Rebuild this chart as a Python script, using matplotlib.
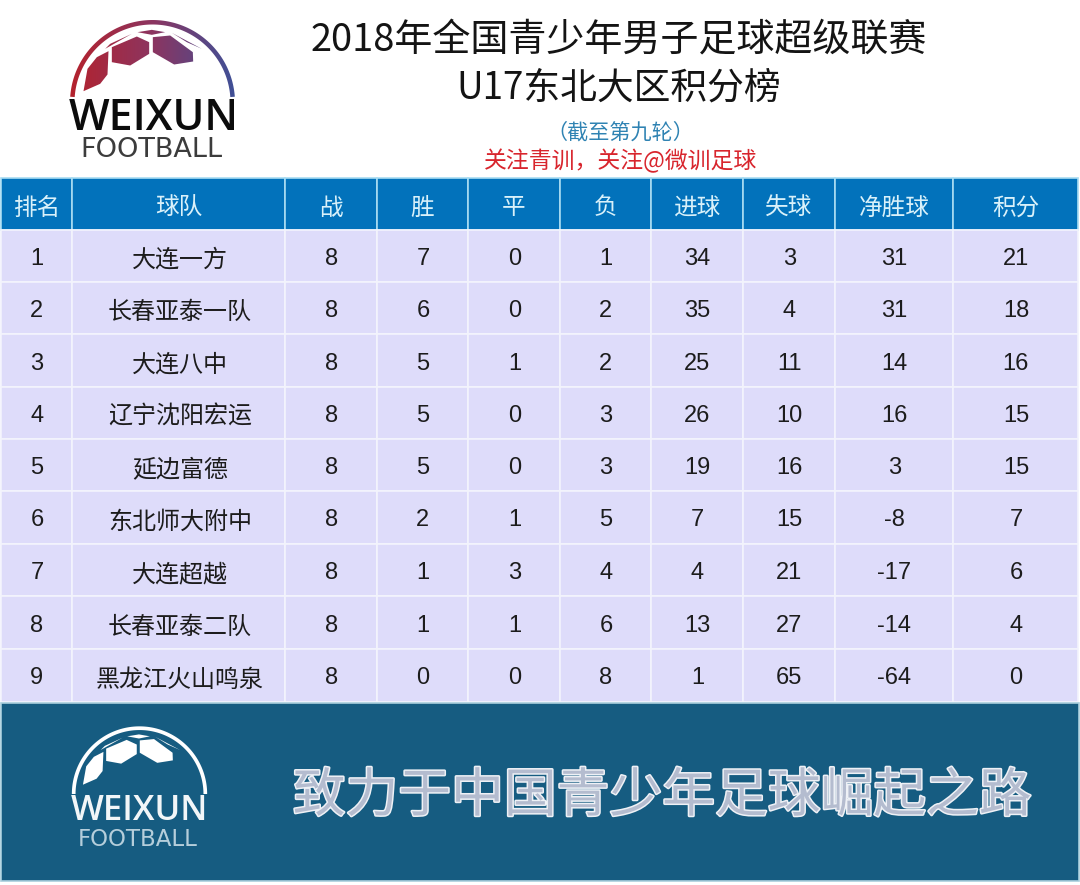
import numpy as np
import matplotlib
matplotlib.use("Agg")
import matplotlib.pyplot as plt
from matplotlib.patches import Rectangle, PathPatch
from matplotlib.path import Path
from matplotlib.colors import LinearSegmentedColormap
import matplotlib.patheffects as pe

CJK = ['Noto Sans CJK SC', 'DejaVu Sans']
NUM = ['Liberation Sans', 'DejaVu Sans']

# table data
headers = ['排名', '球队', '战', '胜', '平', '负', '进球', '失球', '净胜球', '积分']
ranks = [1, 2, 3, 4, 5, 6, 7, 8, 9]
teams = ['大连一方', '长春亚泰一队', '大连八中', '辽宁沈阳宏运', '延边富德',
         '东北师大附中', '大连超越', '长春亚泰二队', '黑龙江火山鸣泉']
played = [8, 8, 8, 8, 8, 8, 8, 8, 8]
wins = [7, 6, 5, 5, 5, 2, 1, 1, 0]
draws = [0, 0, 1, 0, 0, 1, 3, 1, 0]
losses = [1, 2, 2, 3, 3, 5, 4, 6, 8]
goals_for = [34, 35, 25, 26, 19, 7, 4, 13, 1]
goals_against = [3, 4, 11, 10, 16, 15, 21, 27, 65]
goal_diff = [31, 31, 14, 16, 3, -8, -17, -14, -64]
points = [21, 18, 16, 15, 15, 7, 6, 4, 0]

col_edges = [1, 72, 285, 377, 468, 560, 651, 743, 835, 953, 1078]
row_edges = [178, 230, 282, 334, 387, 439, 491, 544, 596, 649, 702]

# logo shapes, offsets from the arc centre at scale 1
hex_shapes = [
    [(-207, -34), (-195, -101), (-167, -136), (-132, -154), (-135, -84), (-157, -56)],
    [(-122, -166), (-47, -198), (-10, -181), (-10, -146), (-67, -111), (-122, -121)],
    [(1, -196), (53, -201), (121, -151), (122, -123), (65, -114), (1, -151)],
    [(-45, -211), (-2, -218), (38, -211), (-2, -203)],
    [(-142, -161), (-62, -206), (-127, -176)],
    [(58, -209), (148, -161), (103, -181)],
]


def logo_path(cx, cy, s, cut=0.0):
    # cut trims the foot of the arc so it stops above the centre line
    ang = np.linspace(np.pi + cut, 2 * np.pi - cut, 120)
    r1, r2 = 82.5 * s, 78 * s
    outer = np.column_stack([cx + r1 * np.cos(ang), cy + r1 * np.sin(ang)])
    inner = np.column_stack([cx + r2 * np.cos(ang), cy + r2 * np.sin(ang)])[::-1]
    polys = [np.vstack([outer, inner])]
    for shape in hex_shapes:
        polys.append(np.array(shape) * s / 3 + [cx, cy])
    return Path.make_compound_path(*[Path(np.vstack([p, p[0]]), closed=True) for p in polys])


fig = plt.figure(figsize=(10.8, 8.85), dpi=100, facecolor='white')
ax = fig.add_axes([0, 0, 1, 1])
ax.set_xlim(0, 1080)
ax.set_ylim(885, 0)
ax.axis('off')

# table cells
for i, h in enumerate(headers):
    x0, x1 = col_edges[i], col_edges[i + 1]
    y0, y1 = row_edges[0], row_edges[1]
    ax.add_patch(Rectangle((x0, y0), x1 - x0, y1 - y0, fc='#0272bb', ec='#a8dcf2', lw=1.2))
    ax.text((x0 + x1) / 2, (y0 + y1) / 2 + 4, h, family=CJK, fontsize=17, color='#d9f1fa',
            ha='center', va='center')

columns = [ranks, teams, played, wins, draws, losses, goals_for, goals_against, goal_diff, points]
for r in range(len(ranks)):
    y0, y1 = row_edges[r + 1], row_edges[r + 2]
    for c, col in enumerate(columns):
        x0, x1 = col_edges[c], col_edges[c + 1]
        ax.add_patch(Rectangle((x0, y0), x1 - x0, y1 - y0, fc='#dedcfa', ec='#f3f4fd', lw=1.2))
        if c == 1:
            ax.text((x0 + x1) / 2 + 1.5, (y0 + y1) / 2 + 4, col[r], family=CJK, fontsize=17.3,
                    color='#1c1c1c', ha='center', va='center')
        else:
            ax.text((x0 + x1) / 2 + 0.4, (y0 + y1) / 2 + 3, str(col[r]), family=NUM, fontsize=17,
                    color='#1c1c1c', ha='center', va='center')

# titles
ax.text(619, 40, '2018年全国青少年男子足球超级联赛', family=CJK, fontsize=27.4, color='#141414',
        ha='center', va='center')
ax.text(619, 88, 'U17东北大区积分榜', family=CJK, fontsize=26.5, color='#141414',
        ha='center', va='center')
ax.text(620, 133, '（截至第九轮）', family=CJK, fontsize=15.2, color='#2f83b3',
        ha='center', va='center')
ax.text(621, 161, '关注青训，关注@微训足球', family=CJK, fontsize=16.5, color='#d8252d',
        ha='center', va='center')

# banner
ax.add_patch(Rectangle((1, 703), 1078, 178, fc='#165c81', ec='#a9cfdd', lw=1.2))
slogan = ax.text(662, 796, '致力于中国青少年足球崛起之路', family=CJK, fontsize=38, color='#b4bccf',
                 ha='center', va='center', weight='medium')
slogan.set_path_effects([pe.withStroke(linewidth=2.2, foreground='#eef1f6')])

# top logo, red to blue gradient
cmap = LinearSegmentedColormap.from_list('logo', ['#b4222d', '#8c3560', '#3f5097'])
grad = np.linspace(0, 1, 256).reshape(1, -1)
im = ax.imshow(grad, cmap=cmap, extent=(70, 235, 105, 15), aspect='auto', zorder=3)
clip = PathPatch(logo_path(152.5, 102.5, 1, cut=0.07), transform=ax.transData, fc='none', ec='none')
ax.add_patch(clip)
im.set_clip_path(clip)
ax.set_xlim(0, 1080)
ax.set_ylim(885, 0)
ax.text(153.5, 118, 'WEIXUN', family='Open Sans', weight='semibold', fontsize=31, color='#0c0c0c',
        ha='center', va='center')
ax.text(151, 150, 'FOOTBALL', family='DejaVu Sans', fontsize=19.5, color='#3c3c3c',
        ha='center', va='center')

# bottom logo, white
ax.add_patch(PathPatch(logo_path(139.5, 794, 0.82), fc='white', ec='none', zorder=3))
ax.text(139.5, 811.5, 'WEIXUN', family='Open Sans', weight='semibold', fontsize=25, color='#f2f6f8',
        ha='center', va='center', zorder=3)
ax.text(138, 839, 'FOOTBALL', family='DejaVu Sans', fontsize=16.5, color='#b5cedb',
        ha='center', va='center', zorder=3)

fig.savefig('out.png', dpi=100)
